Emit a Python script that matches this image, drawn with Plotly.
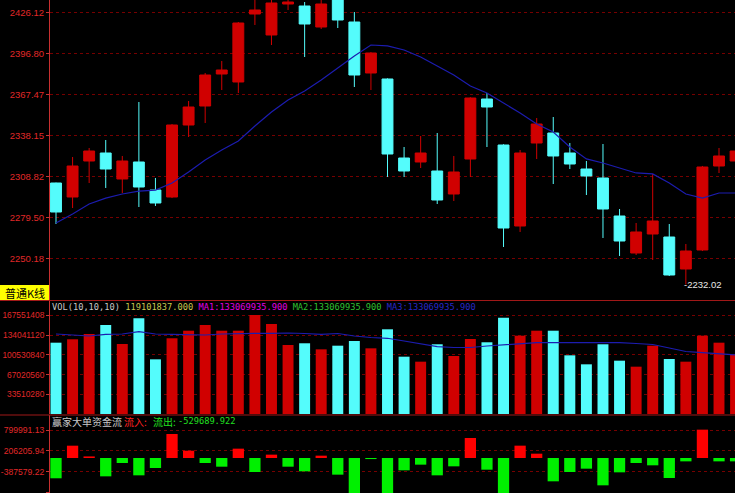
import plotly.graph_objects as go

# ---------------- data ----------------
idx = list(range(1, 43))

open_ = [2304.34, 2294.35, 2320.04, 2325.74, 2307.20, 2319.33, 2299.35, 2294.35, 2345.72, 2359.27,
         2382.10, 2376.40, 2424.91, 2409.93, 2432.04, 2430.61, 2415.63, 2440.00, 2419.20, 2382.82,
         2378.54, 2322.18, 2319.33, 2312.90, 2296.49, 2321.46, 2364.27, 2331.45, 2273.67, 2332.88,
         2340.01, 2325.74, 2314.33, 2307.91, 2280.80, 2254.40, 2267.96, 2265.82, 2242.99, 2256.55,
         2316.47, 2320.04]
high = [2304.60, 2322.89, 2329.31, 2335.02, 2323.61, 2362.13, 2307.91, 2346.40, 2362.84, 2382.82,
        2391.38, 2419.20, 2436.50, 2436.00, 2437.00, 2433.47, 2436.50, 2442.00, 2426.33, 2397.70,
        2379.00, 2330.02, 2337.87, 2340.01, 2323.61, 2365.50, 2368.55, 2332.00, 2327.89, 2350.71,
        2351.43, 2332.88, 2320.04, 2332.16, 2285.79, 2275.81, 2310.76, 2275.09, 2260.82, 2316.50,
        2329.31, 2331.00]
low = [2275.09, 2286.51, 2304.34, 2300.78, 2297.21, 2287.22, 2287.94, 2293.60, 2337.16, 2347.15,
       2370.69, 2368.55, 2417.06, 2402.79, 2427.76, 2394.23, 2414.21, 2414.92, 2372.83, 2370.69,
       2308.62, 2308.62, 2315.04, 2289.36, 2291.50, 2308.62, 2330.02, 2258.68, 2269.39, 2321.46,
       2303.63, 2314.33, 2295.78, 2265.11, 2252.27, 2252.98, 2249.41, 2238.00, 2232.02, 2255.80,
       2311.48, 2316.00]
close = [2283.65, 2316.47, 2327.17, 2314.33, 2320.04, 2301.49, 2290.08, 2345.72, 2358.56, 2381.39,
         2384.96, 2418.49, 2427.76, 2432.75, 2433.47, 2417.77, 2432.04, 2420.63, 2381.39, 2397.08,
         2325.03, 2312.90, 2325.74, 2292.21, 2312.19, 2364.98, 2358.56, 2272.24, 2325.74, 2346.43,
         2323.61, 2317.90, 2309.34, 2285.79, 2262.96, 2269.39, 2277.23, 2238.71, 2255.83, 2315.76,
         2323.61, 2327.17]
ma_price = [2275.8, 2282.2, 2289.4, 2293.6, 2296.5, 2298.6, 2299.3, 2304.3, 2312.2, 2320.7,
            2327.9, 2334.3, 2345.0, 2355.0, 2363.6, 2370.0, 2377.8, 2386.4, 2394.9, 2402.8,
            2402.1, 2399.2, 2394.2, 2387.8, 2381.4, 2373.5, 2368.6, 2361.4, 2354.3, 2346.4,
            2340.7, 2330.0, 2321.5, 2318.6, 2315.0, 2311.5, 2310.8, 2304.3, 2296.5, 2293.6,
            2297.2, 2297.2]

volume = [121300000, 127100000, 136100000, 151400000, 119100000, 162800000, 93000000, 128800000,
          141700000, 151400000, 141700000, 141700000, 168400000, 153100000, 117400000, 120300000,
          110000000, 116200000, 124200000, 111700000, 144100000, 97500000, 89000000, 118600000,
          98700000, 127600000, 122000000, 163800000, 133200000, 141700000, 141700000, 99800000,
          84500000, 118600000, 90700000, 80500000, 116200000, 93600000, 89000000, 133200000,
          121300000, 101600000]
vol_ma = [136100000, 134400000, 132700000, 135600000, 136100000, 140000000, 136100000, 135600000,
          134400000, 134400000, 136100000, 137300000, 137300000, 137300000, 137800000, 136900000,
          135600000, 136900000, 132700000, 130100000, 128800000, 124200000, 119100000, 114500000,
          113100000, 113100000, 115700000, 117400000, 119100000, 121300000, 121300000, 121300000,
          121300000, 121300000, 121300000, 119900000, 118200000, 112300000, 106300000, 104300000,
          102900000, 100400000]

money_flow = [-582000, 353000, 45000, -526000, -143000, -497000, -287000, 688000, 210000, -143000,
              -249000, 268000, -402000, 96000, -249000, -382000, 67000, -478000, -1100000, -30000,
              -1100000, -354000, -191000, -497000, -239000, 574000, -335000, -1100000, 354000, 124000,
              -669000, -402000, -306000, -784000, -411000, -143000, -210000, -574000, -96000, 813000,
              -96000, -96000]

price_ticks = [2250.18, 2279.50, 2308.82, 2338.15, 2367.47, 2396.80, 2426.12]
vol_ticks = [33510280, 67020560, 100530840, 134041120, 167551408]
mf_ticks = [-981364.39, -387579.22, 206205.94, 799991.13]

vol_header = ["VOL(10,10,10)", "119101837.000", "MA1:133069935.900", "MA2:133069935.900", "MA3:133069935.900"]
mf_title = "赢家大单资金流"
low_label = "-2232.02"

# ---------------- layout helpers ----------------
W, H, L = 735, 493, 50
PW = W - L


def px_x(px):
    return (px - L) / PW


def px_y(py):
    return 1 - py / H


RED = "#d00000"
CYAN = "#54fcfc"
AXRED = "#c83030"
GRID = "#760000"

vol_colors = [RED if c >= o else CYAN for o, c in zip(open_, close)]
mf_colors = ["#ff0000" if v >= 0 else "#00f000" for v in money_flow]

fig = go.Figure()
fig.add_trace(go.Candlestick(
    x=idx, open=open_, high=high, low=low, close=close,
    increasing=dict(line=dict(color=RED, width=1), fillcolor=RED),
    decreasing=dict(line=dict(color=CYAN, width=1), fillcolor=CYAN),
    whiskerwidth=0, hoverinfo="skip", xaxis="x", yaxis="y"))
fig.add_trace(go.Scatter(x=idx, y=ma_price, mode="lines",
                         line=dict(color="#1c1cb0", width=1.2), xaxis="x", yaxis="y"))
fig.add_trace(go.Bar(x=idx, y=volume, width=0.66,
                     marker=dict(color=vol_colors, line=dict(width=0)), xaxis="x2", yaxis="y2"))
fig.add_trace(go.Scatter(x=idx, y=vol_ma, mode="lines",
                         line=dict(color="#1c1cb0", width=1.2), xaxis="x2", yaxis="y2"))
fig.add_trace(go.Bar(x=idx, y=money_flow, width=0.68,
                     marker=dict(color=mf_colors, line=dict(width=0)), xaxis="x3", yaxis="y3"))

xr = [0.638, 41.965]
xcommon = dict(range=xr, visible=False, fixedrange=True, automargin=False)


def yax(domain, rng, ticks, texts, size, anchor):
    return dict(domain=domain, range=rng, tickvals=ticks, ticktext=texts,
                showline=True, linecolor=AXRED, linewidth=1, mirror=False,
                ticks="outside", ticklen=3, tickcolor=AXRED, ticklabelstandoff=0,
                tickfont=dict(family="Liberation Sans", size=size, color="#e02828"),
                showgrid=True, gridcolor=GRID, griddash="dot", gridwidth=1,
                zeroline=False, fixedrange=True, anchor=anchor, automargin=False)


fig.update_layout(
    template="none",
    width=W, height=H,
    margin=dict(l=L, r=0, t=0, b=0, pad=0, autoexpand=False),
    paper_bgcolor="black", plot_bgcolor="black",
    showlegend=False,
    boxgap=0.1, boxgroupgap=0.27,
    xaxis=dict(**xcommon, anchor="y", rangeslider=dict(visible=False)),
    xaxis2=dict(**xcommon, anchor="y2"),
    xaxis3=dict(**xcommon, anchor="y3"),
    yaxis=yax([px_y(300), 1], [2220.875, 2434.895], price_ticks,
              ["%.2f" % v for v in price_ticks], 9.5, "x"),
    yaxis2=yax([px_y(414), px_y(301)], [0, 192216277], vol_ticks,
               [str(v) for v in vol_ticks], 8.4, "x2"),
    yaxis3=yax([0, px_y(415)], [-1003975, 1233455], mf_ticks,
               ["%.2f" % v for v in mf_ticks], 8.6, "x3"),
)

shapes = [
    dict(type="line", xref="paper", yref="paper", x0=px_x(0), x1=1, y0=px_y(300.5), y1=px_y(300.5),
         line=dict(color="#a01818", width=1), layer="above"),
    dict(type="line", xref="paper", yref="paper", x0=px_x(0), x1=1, y0=px_y(415), y1=px_y(415),
         line=dict(color="#a01818", width=1), layer="above"),
    dict(type="rect", xref="paper", yref="paper", x0=px_x(0), x1=px_x(49), y0=px_y(300), y1=px_y(285),
         fillcolor="#ffff00", line=dict(width=0), layer="above"),
]
fig.update_layout(shapes=shapes)

mono = "DejaVu Sans Mono"
vol_colors_hdr = ["#c8c8c8", "#c8c850", "#e000e0", "#30c030", "#2828c8"]
hdr = " ".join(f"<span style='color:{c}'>{t}</span>" for t, c in zip(vol_header, vol_colors_hdr))
ann = [
    dict(text="普通K线", xref="paper", yref="paper", x=px_x(24.5), y=px_y(292.5),
         xanchor="center", yanchor="middle", showarrow=False,
         font=dict(family="Noto Sans CJK SC", size=11, color="black")),
    dict(text=hdr, xref="paper", yref="paper", x=px_x(50), y=px_y(307),
         xanchor="left", yanchor="middle", showarrow=False,
         font=dict(family=mono, size=8.7, color="#c8c8c8")),
    dict(text=mf_title, xref="paper", yref="paper", x=px_x(50), y=px_y(421),
         xanchor="left", yanchor="middle", showarrow=False,
         font=dict(family="Noto Sans CJK SC", size=10, color="#c8c8c8")),
    dict(text="流入:", xref="paper", yref="paper", x=px_x(122), y=px_y(421),
         xanchor="left", yanchor="middle", showarrow=False,
         font=dict(family="Noto Sans CJK SC", size=10, color="#ff2020")),
    dict(text="流出:", xref="paper", yref="paper", x=px_x(151), y=px_y(421),
         xanchor="left", yanchor="middle", showarrow=False,
         font=dict(family="Noto Sans CJK SC", size=10, color="#20e020")),
    dict(text="%.3f" % -529689.922, xref="paper", yref="paper", x=px_x(176), y=px_y(421),
         xanchor="left", yanchor="middle", showarrow=False,
         font=dict(family=mono, size=8.7, color="#20e020")),
    dict(text=low_label, xref="x", yref="y", x=39, y=min(low), xshift=-4,
         xanchor="left", yanchor="middle", showarrow=False,
         font=dict(family="Liberation Sans", size=9.5, color="#e8e8e8")),
]
fig.update_layout(annotations=ann)

fig.write_html("out.html",
               config={"displayModeBar": False, "staticPlot": True},
               post_script="document.body.style.margin='0';document.body.style.padding='0';"
                           "document.body.style.overflow='hidden';")
